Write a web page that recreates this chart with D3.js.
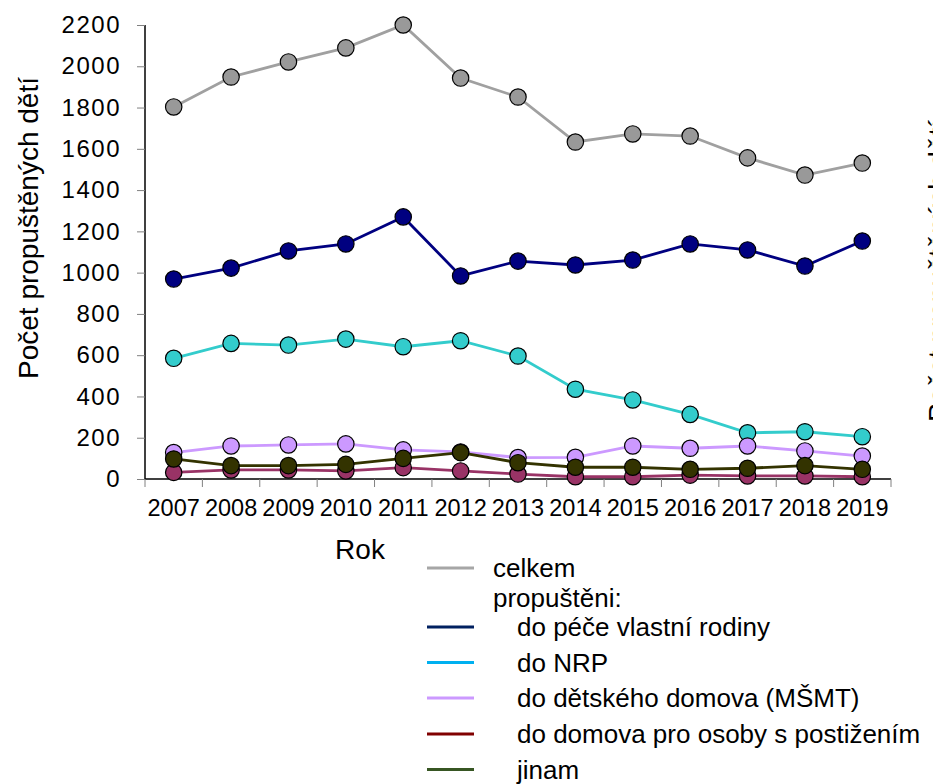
<!DOCTYPE html>
<html><head><meta charset="utf-8">
<script src="https://cdn.jsdelivr.net/npm/d3@7"></script>
<style>body{margin:0;background:#fff}svg{display:block;font-family:"Liberation Sans",Arial,sans-serif}</style>
</head><body><svg id="c" width="933" height="784"></svg>
<script>
const years = ["2007","2008","2009","2010","2011","2012","2013","2014","2015","2016","2017","2018","2019"];
const celkem = [1803,1948,2021,2089,2200,1943,1851,1633,1672,1662,1556,1473,1531];
const rodiny = [969,1022,1105,1139,1270,984,1056,1037,1061,1139,1110,1032,1153];
const nrp = [585,657,649,678,641,670,596,435,383,313,224,229,205];
const domov = [128,160,165,170,141,131,104,105,160,149,160,136,111];
const postizeni = [32,44,44,39,55,39,24,11,11,19,15,15,11];
const jinam = [97,65,65,71,100,128,79,57,57,47,52,65,47];
const yTicks = [0,200,400,600,800,1000,1200,1400,1600,1800,2000,2200];

const seriesDefs = [
  {name:"celkem", values:celkem, line:"#a0a0a0", fill:"#999999", legend:"#a6a6a6", indent:false},
  {name:"do péče vlastní rodiny", values:rodiny, line:"#000080", fill:"#000080", legend:"#002060", indent:true},
  {name:"do NRP", values:nrp, line:"#33cccc", fill:"#33cccc", legend:"#00b0f0", indent:true},
  {name:"do dětského domova (MŠMT)", values:domov, line:"#cc99ff", fill:"#cc99ff", legend:"#cc99ff", indent:true},
  {name:"do domova pro osoby s postižením", values:postizeni, line:"#993366", fill:"#993366", legend:"#800000", indent:true},
  {name:"jinam", values:jinam, line:"#333300", fill:"#333300", legend:"#375623", indent:true}
];

const svg = d3.select("#c");
const x = d3.scaleBand().domain(years).range([145, 891]);
const y = d3.scaleLinear().domain([0, 2200]).range([479, 25]);

// y axis
const ya = svg.append("g").attr("transform","translate(145,0)")
  .call(d3.axisLeft(y).tickValues(yTicks).tickFormat(d3.format("d")).tickSize(8).tickPadding(16));
ya.select(".domain").attr("stroke","#000").attr("stroke-width",1.5).attr("d","M0,"+y(2200)+"V"+y(0));
ya.selectAll(".tick line").attr("stroke","#808080");
ya.selectAll(".tick text").attr("font-size",24).attr("fill","#000").style("letter-spacing","1.5px")
  .attr("font-family","Liberation Sans, Arial, sans-serif");

// x axis
const xa = svg.append("g").attr("transform","translate(0,479)")
  .call(d3.axisBottom(x).tickSize(0).tickPadding(20));
xa.select(".domain").attr("stroke","#000").attr("stroke-width",1.5).attr("d","M145,0H891");
xa.selectAll(".tick text").attr("font-size",23.5).attr("fill","#000")
  .attr("font-family","Liberation Sans, Arial, sans-serif");
// boundary ticks
const bounds = years.map(d => x(d)).concat([x(years[years.length-1]) + x.bandwidth()]);
svg.append("g").selectAll("line").data(bounds).join("line")
  .attr("x1",d=>d).attr("x2",d=>d).attr("y1",479).attr("y2",487)
  .attr("stroke","#808080").attr("stroke-width",1);

// axis titles
svg.append("text").attr("transform","translate(38,228) rotate(-90)")
  .attr("text-anchor","middle").attr("font-size",28).text("Počet propuštěných dětí");
svg.append("text").attr("transform","translate(948,271) rotate(-90)")
  .attr("text-anchor","middle").attr("font-size",28).text("Počet propuštěných dětí");
svg.append("text").attr("x",360).attr("y",559).attr("text-anchor","middle")
  .attr("font-size",28).text("Rok");

// lines and markers
const line = d3.line().x((d,i)=>x(years[i]) + x.bandwidth()/2).y(d=>y(d));
seriesDefs.forEach(s => {
  const g = svg.append("g");
  g.append("path").attr("d", line(s.values)).attr("fill","none")
    .attr("stroke", s.line).attr("stroke-width",2.8);
  g.selectAll("circle").data(s.values).join("circle")
    .attr("cx",(d,i)=>x(years[i]) + x.bandwidth()/2).attr("cy",d=>y(d))
    .attr("r",8.2).attr("fill",s.fill).attr("stroke","#000").attr("stroke-width",1.2);
});

// legend
const leg = svg.append("g");
const rowY = [568, 627, 662.5, 698, 734, 769.5];
seriesDefs.forEach((s,i) => {
  leg.append("line").attr("x1",427).attr("x2",474).attr("y1",rowY[i]).attr("y2",rowY[i])
    .attr("stroke",s.legend).attr("stroke-width",3);
  leg.append("text").attr("x", s.indent ? 517 : 493).attr("y",rowY[i])
    .attr("dy","0.35em").attr("font-size",26).text(s.name);
});
leg.append("text").attr("x",493).attr("y",598).attr("dy","0.35em").attr("font-size",26).text("propuštěni:");
</script></body></html>
